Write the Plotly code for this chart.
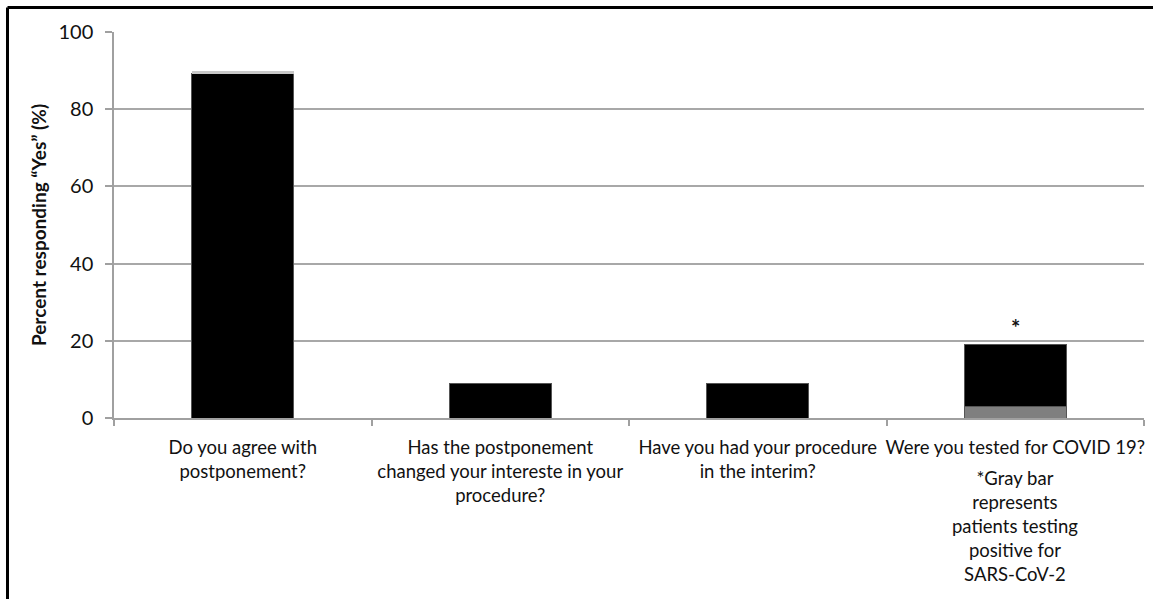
import plotly.graph_objects as go

categories = [
    "Do you agree with<br>postponement?",
    "Has the postponement<br>changed your intereste in your<br>procedure?",
    "Have you had your procedure<br>in the interim?",
    "Were you tested for COVID 19?",
]
positive_gray = [0, 0, 0, 3]
yes_black = [89.2, 9, 9, 16]
top_edge = [0.8, 0, 0, 0]
y_ticks = [0, 20, 40, 60, 80, 100]
note_text = "*Gray bar<br>represents<br>patients testing<br>positive for<br>SARS-CoV-2"
y_title = "Percent responding \u201cYes\u201d (%)"

FONT = "Lato"
TXT = "#111111"
fig = go.Figure()
fig.add_trace(go.Bar(x=categories, y=positive_gray, marker=dict(color="#7f7f7f", line=dict(color="#555555", width=1)), showlegend=False))
fig.add_trace(go.Bar(x=categories, y=yes_black, marker=dict(color="#000000", line=dict(color="#555555", width=1)), showlegend=False))
fig.add_trace(go.Bar(x=categories, y=top_edge, marker=dict(color="#c8c8c8", line=dict(width=0)), showlegend=False))

fig.update_layout(
    barmode="stack",
    bargap=0.604,
    width=1153, height=599,
    margin=dict(l=114, r=9, t=32, b=181),
    paper_bgcolor="white", plot_bgcolor="white",
    font=dict(family=FONT, color=TXT, size=18),
    xaxis=dict(
        type="category",
        showgrid=False,
        showline=True, linecolor="#a0a0a0", linewidth=1.5,
        ticks="outside", tickson="boundaries", ticklen=6, tickcolor="#a0a0a0", tickwidth=1.5,
        tickfont=dict(family=FONT, size=18.5, color=TXT),
        ticklabelstandoff=12,
        tickangle=0,
    ),
    yaxis=dict(
        range=[0, 100],
        tickvals=y_ticks,
        showgrid=True, gridcolor="#a8a8a8", gridwidth=1.5,
        showline=True, linecolor="#a0a0a0", linewidth=1.5,
        ticks="outside", ticklen=7, tickcolor="#a0a0a0", tickwidth=1.5,
        tickfont=dict(family=FONT, size=20, color=TXT),
        ticklabelstandoff=8,
        zeroline=False,
        title=dict(text="<b>" + y_title + "</b>", font=dict(family=FONT, size=19, color=TXT), standoff=7),
    ),
)

fig.add_annotation(x=categories[3], y=positive_gray[3] + yes_black[3] + 4.5, xref="x", yref="y",
                   text="<b>*</b>", showarrow=False, font=dict(family=FONT, size=22, color=TXT))
fig.add_annotation(x=categories[3], y=-0.122, xref="x", yref="paper", yanchor="top",
                   text=note_text, showarrow=False, align="center",
                   font=dict(family=FONT, size=18.5, color=TXT))

# frame lines (top and left)
fig.add_shape(type="line", xref="paper", yref="paper", x0=-0.1034, x1=1.01, y0=1.0635, y1=1.0635,
              line=dict(color="black", width=3))
fig.add_shape(type="line", xref="paper", yref="paper", x0=-0.1034, x1=-0.1034, y0=1.0635, y1=-0.47,
              line=dict(color="black", width=3))

fig.write_html("out.html")
